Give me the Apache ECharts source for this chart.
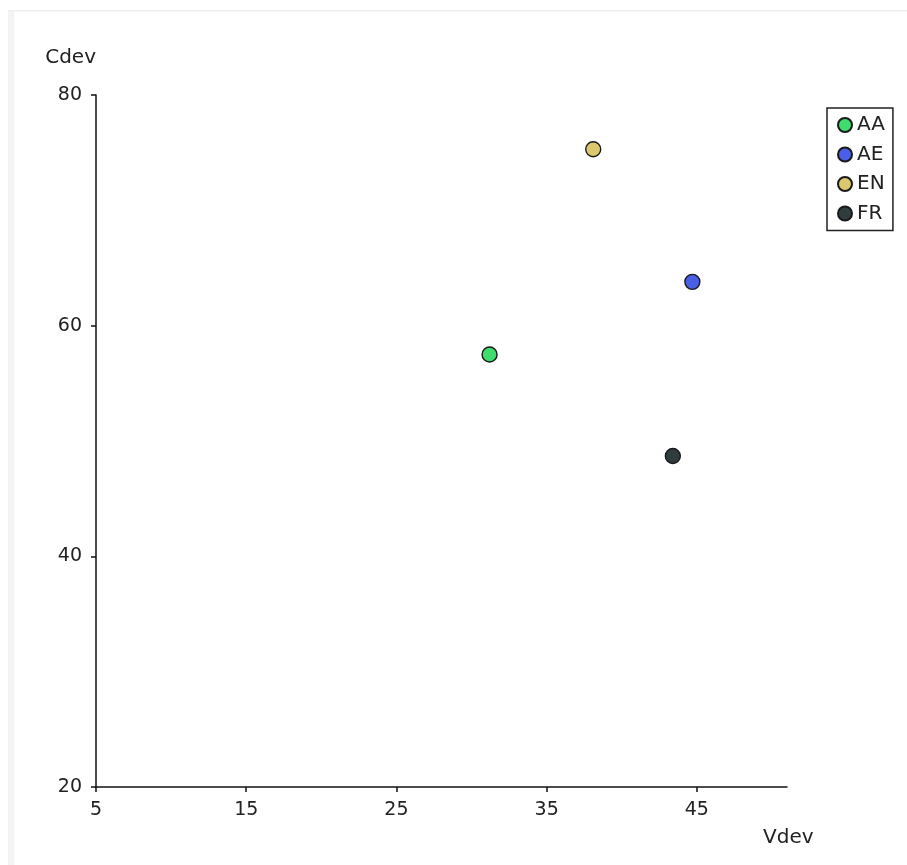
<!DOCTYPE html>
<html>
<head>
<meta charset="utf-8">
<script src="https://cdn.jsdelivr.net/npm/echarts@6/dist/echarts.min.js"></script>
<style>
html,body{margin:0;padding:0;background:#fff;}
#chart{width:907px;height:865px;}
</style>
</head>
<body>
<div id="chart"></div>
<script>
const seriesNames = ['AA', 'AE', 'EN', 'FR'];
const vdev = [31.2, 44.7, 38.1, 43.4];
const cdev = [57.5, 63.8, 75.3, 48.7];
const colors = ['#3fdc6e', '#4a5ee6', '#dcc86c', '#2f3d3e'];
const xTicks = [5, 15, 25, 35, 45];
const yTicks = [20, 40, 60, 80];

const FONT = 'DejaVu Sans';
const chart = echarts.init(document.getElementById('chart'));

const series = seriesNames.map((n, i) => ({
  name: n,
  type: 'scatter',
  data: [[vdev[i], cdev[i]]],
  symbol: 'circle',
  symbolSize: 15,
  itemStyle: { color: colors[i], borderColor: '#1a1a1a', borderWidth: 1.4, opacity: 1 },
  emphasis: { disabled: true }
}));

chart.setOption({
  animation: false,
  backgroundColor: '#ffffff',
  textStyle: { fontFamily: FONT },
  grid: { left: 96, top: 95, right: 120, bottom: 78, containLabel: false },
  graphic: [
    { type: 'rect', shape: { x: 8, y: 10, width: 6, height: 855 }, style: { fill: '#f3f3f3' }, silent: true },
    { type: 'rect', shape: { x: 8, y: 10, width: 899, height: 1.5 }, style: { fill: '#eeeeee' }, silent: true }
  ],
  xAxis: {
    type: 'value',
    min: 5, max: 51,
    name: 'Vdev',
    nameLocation: 'end',
    nameGap: -24,
    nameTextStyle: { color: '#222', fontSize: 20, fontFamily: FONT, align: 'left', verticalAlign: 'top', padding: [41, 0, 0, 0] },
    axisLine: { show: true, lineStyle: { color: '#111', width: 1.5 } },
    axisTick: { show: true, customValues: xTicks, length: 5, lineStyle: { color: '#111', width: 1.5 } },
    axisLabel: { customValues: xTicks, color: '#222', fontSize: 19, fontFamily: FONT, margin: 14 },
    splitLine: { show: false }
  },
  yAxis: {
    type: 'value',
    min: 20, max: 80, interval: 20,
    name: 'Cdev',
    nameLocation: 'end',
    nameGap: 27,
    nameTextStyle: { color: '#222', fontSize: 20, fontFamily: FONT, align: 'right', padding: [0, 0, 0, 0] },
    axisLine: { show: true, lineStyle: { color: '#111', width: 1.5 } },
    axisTick: { show: true, customValues: yTicks, length: 5, lineStyle: { color: '#111', width: 1.5 } },
    axisLabel: { customValues: yTicks, color: '#222', fontSize: 19, fontFamily: FONT, margin: 14 },
    splitLine: { show: false }
  },
  legend: {
    data: seriesNames,
    orient: 'vertical',
    left: 827, top: 108,
    icon: 'circle',
    itemWidth: 14, itemHeight: 14,
    itemGap: 7.5,
    itemTextGap: 9,
    borderColor: '#222', borderWidth: 1.5, borderRadius: 0,
    padding: [6, 8, 6, 10],
    textStyle: { color: '#222', fontSize: 20, fontFamily: FONT, lineHeight: 22 },
    selectedMode: false
  },
  series: series
});
</script>
</body>
</html>
